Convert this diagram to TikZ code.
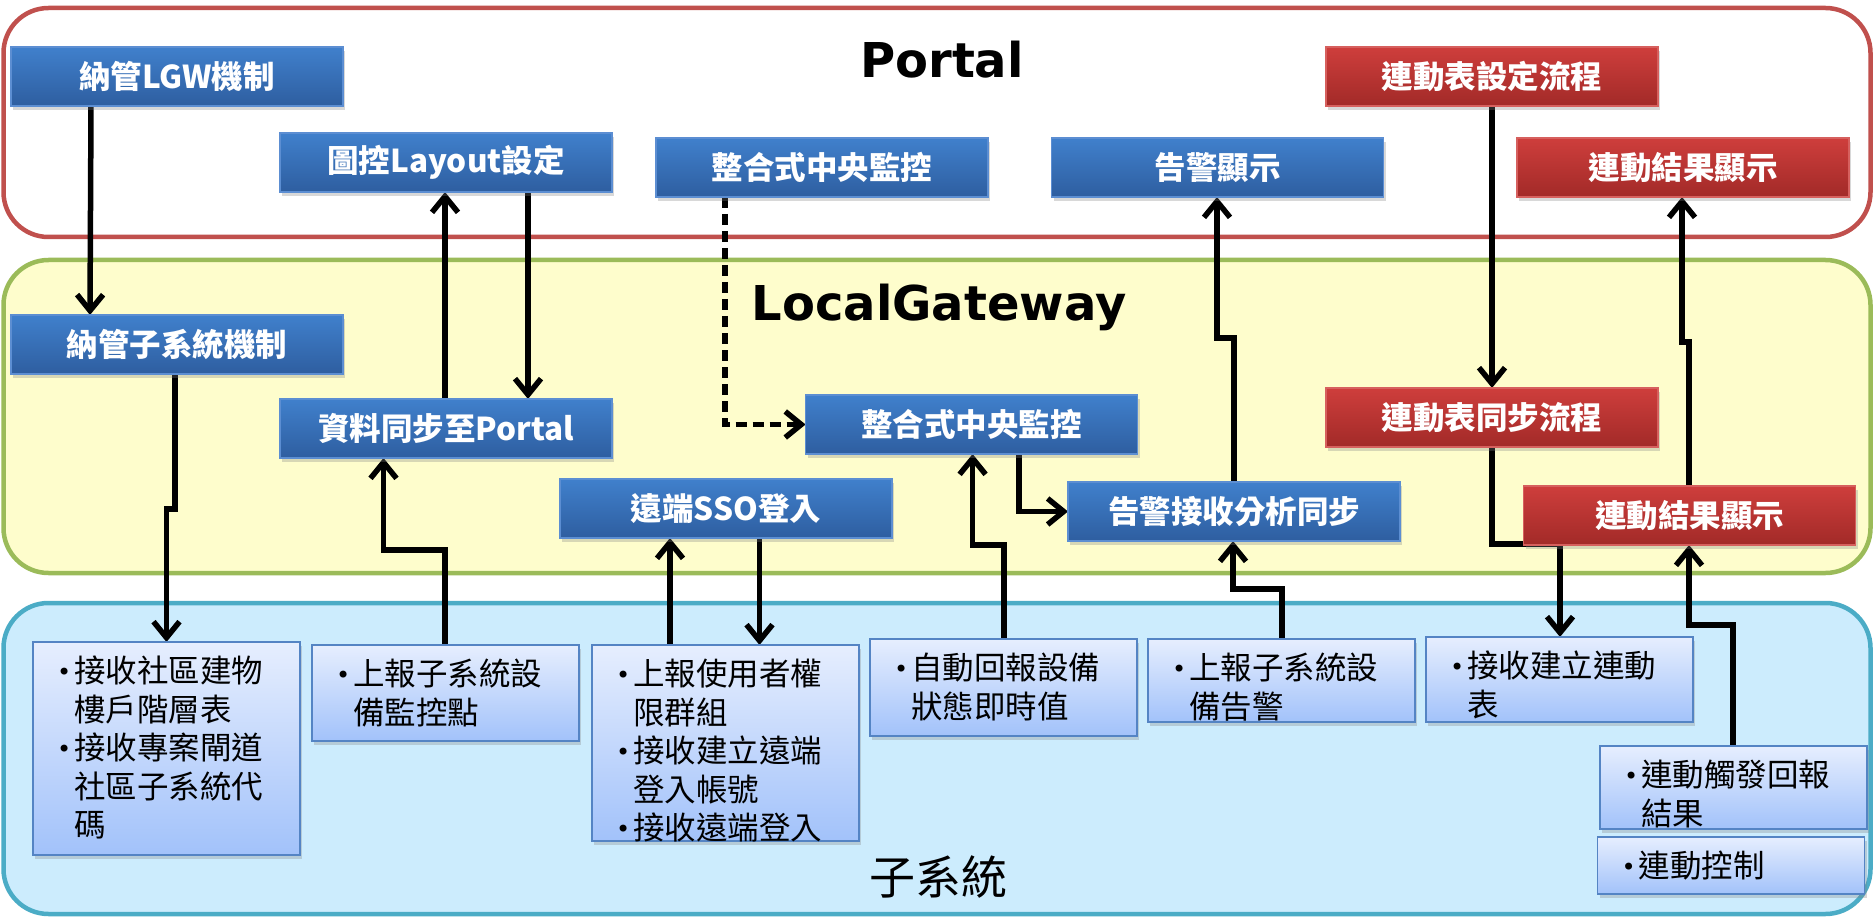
\documentclass[tikz,border=0pt]{standalone}
\usepackage{fontspec}
\setmainfont{Noto Sans CJK TC}
\newfontfamily\titlefont{DejaVu Sans}
\usetikzlibrary{arrows.meta,shadows}

\definecolor{bluetop}{RGB}{64,128,204}
\definecolor{bluebot}{RGB}{46,94,160}
\definecolor{blueline}{RGB}{92,142,210}
\definecolor{redtop}{RGB}{206,62,60}
\definecolor{redbot}{RGB}{162,42,40}
\definecolor{redline}{RGB}{214,96,94}
\definecolor{listtop}{RGB}{230,238,254}
\definecolor{listbot}{RGB}{162,194,250}
\definecolor{listline}{RGB}{84,132,196}
\definecolor{portalline}{RGB}{192,80,77}
\definecolor{lgwfill}{RGB}{254,253,204}
\definecolor{lgwline}{RGB}{155,187,89}
\definecolor{subfill}{RGB}{204,236,253}
\definecolor{subline}{RGB}{75,172,198}

\newcommand{\boxfont}{\fontsize{31.5}{38.5}\selectfont}
\newcommand{\bul}{\makebox[17pt][l]{\titlefont\fontsize{24}{24}\selectfont\raisebox{2pt}{•}}}
\newcommand{\ind}{\hspace*{17pt}}

\pgfdeclarelayer{bg}
\pgfdeclarelayer{mid}
\pgfsetlayers{bg,mid,main}

\tikzset{
  procbox/.style={rectangle, draw=blueline, line width=1.5pt, top color=bluetop, bottom color=bluebot, text=white, font=\boxfont\bfseries, minimum width=332pt, minimum height=59pt, inner sep=0pt, outer sep=0pt, anchor=north west, drop shadow={shadow xshift=2pt, shadow yshift=-4pt, opacity=0.3}},
  redbox/.style={procbox, draw=redline, top color=redtop, bottom color=redbot},
  listbox/.style={rectangle, draw=listline, line width=1.5pt, top color=listtop, bottom color=listbot, minimum width=267pt, inner sep=0pt, outer sep=0pt, anchor=north west, drop shadow={shadow xshift=2pt, shadow yshift=-4pt, opacity=0.3}},
  listtext/.style={anchor=north west, align=left, inner sep=0pt, font=\boxfont},
  area/.style={rectangle, rounded corners=45pt, line width=4.5pt, minimum width=1867pt, outer sep=0pt, anchor=north west},
  title/.style={font=\titlefont\fontsize{48}{48}\selectfont\bfseries, anchor=base},
  flow/.style={line width=5.5pt, -{Straight Barb[length=16pt,width=26pt]}},
  dflow/.style={flow, dash pattern=on 11pt off 6pt},
}

\begin{document}
\begin{tikzpicture}[x=1pt,y=-1pt]
\useasboundingbox (0,0) rectangle (1874,917);

\begin{pgfonlayer}{bg}
\fill [white] (0,0) rectangle (1874,917);
\node (portal) [area, draw=portalline, fill=white, minimum height=229pt] at (3.5,8) {};
\node (lgwarea) [area, draw=lgwline, fill=lgwfill, minimum height=313pt] at (3.5,260) {};
\node (subarea) [area, draw=subline, fill=subfill, minimum height=311pt] at (3.5,603) {};
\end{pgfonlayer}

\node (portaltitle) [title] at (942,77.3) {Portal};
\node (lgwtitle) [title] at (939,320) {LocalGateway};
\node (subtitle) [font=\fontsize{46}{46}\selectfont] at (938,877) {子系統};

% Portal
\node (lgw) [procbox] at (11,47) {納管LGW機制};
\node (layout) [procbox] at (280,133) {圖控Layout設定};
\node (mon) [procbox] at (656,138) {整合式中央監控};
\node (alarm) [procbox] at (1051.5,138) {告警顯示};
\node (lset) [redbox] at (1326,47) {連動表設定流程};
\node (lresp) [redbox] at (1517,138) {連動結果顯示};

% LocalGateway
\node (subm) [procbox] at (11,315) {納管子系統機制};
\node (sync) [procbox] at (280,399) {資料同步至Portal};
\node (monl) [procbox] at (805.6,395) {整合式中央監控};
\node (sso) [procbox] at (560,479) {遠端SSO登入};
\node (recv) [procbox] at (1068,482) {告警接收分析同步};
\node (lsync) [redbox] at (1326,388) {連動表同步流程};
\node (lres) [redbox] at (1523.5,486) {連動結果顯示};

% subsystems
\node (list1) [listbox, minimum height=213pt] at (33,642) {};
\node (list1t) [listtext] at ([xshift=24pt,yshift=-14pt]list1.north west) {\bul 接收社區建物\\ \ind 樓戶階層表\\ \bul 接收專案閘道\\ \ind 社區子系統代\\ \ind 碼};
\node (list2) [listbox, minimum height=96pt] at (312,645) {};
\node (list2t) [listtext] at ([xshift=24pt,yshift=-14pt]list2.north west) {\bul 上報子系統設\\ \ind 備監控點};
\node (list3) [listbox, minimum height=196pt] at (592,645) {};
\node (list3t) [listtext] at ([xshift=24pt,yshift=-14pt]list3.north west) {\bul 上報使用者權\\ \ind 限群組\\ \bul 接收建立遠端\\ \ind 登入帳號\\ \bul 接收遠端登入};
\node (list4) [listbox, minimum height=97pt] at (870,639) {};
\node (list4t) [listtext] at ([xshift=24pt,yshift=-14pt]list4.north west) {\bul 自動回報設備\\ \ind 狀態即時值};
\node (list5) [listbox, minimum height=83pt] at (1148,639) {};
\node (list5t) [listtext] at ([xshift=24pt,yshift=-14pt]list5.north west) {\bul 上報子系統設\\ \ind 備告警};
\node (list6) [listbox, minimum height=85pt] at (1426,637) {};
\node (list6t) [listtext] at ([xshift=24pt,yshift=-14pt]list6.north west) {\bul 接收建立連動\\ \ind 表};
\node (list7) [listbox, minimum height=83pt] at (1600,746) {};
\node (list7t) [listtext] at ([xshift=24pt,yshift=-14pt]list7.north west) {\bul 連動觸發回報\\ \ind 結果};
\node (list8) [listbox, minimum height=57pt] at (1597.5,837) {};
\node (list8t) [listtext] at ([xshift=24pt,yshift=-14pt]list8.north west) {\bul 連動控制};

\begin{pgfonlayer}{mid}
\draw [flow] ([xshift=80pt]lgw.south west) -- ([xshift=79pt]subm.north west);
\draw [flow] ([xshift=164pt]subm.south west) -- ++(0,135) -| ([xshift=133.5pt]list1.north west);
\draw [flow] ([xshift=133pt]list2.north west) -- ++(0,-95) -| ([xshift=103.5pt]sync.south west);
\draw [flow] ([xshift=165pt]sync.north west) -- ([xshift=165pt]layout.south west);
\draw [flow] ([xshift=248pt]layout.south west) -- ([xshift=248pt]sync.north west);
\draw [flow] ([xshift=78pt]list3.north west) -- ([xshift=110pt]sso.south west);
\draw [flow] ([xshift=199.5pt]sso.south west) -- ([xshift=167.5pt]list3.north west);
\draw [dflow] ([xshift=69pt]mon.south west) |- (monl.west);
\draw [flow] ([xshift=134pt]list4.north west) -- ++(0,-94) -| ([xshift=167pt]monl.south west);
\draw [flow] ([xshift=213.4pt]monl.south west) |- (recv.west);
\draw [flow] ([xshift=134pt]list5.north west) -- ++(0,-50) -| ([xshift=165pt]recv.south west);
\draw [flow] ([xshift=166pt]recv.north west) -- ++(0,-144) -| ([xshift=165.5pt]alarm.south west);
\draw [flow] (lset.south) -- (lsync.north);
\draw [flow] (lsync.south) -- ++(0,97) -| ([xshift=134pt]list6.north west);
\draw [flow] ([xshift=133pt]list7.north west) -- ++(0,-121) -| ([xshift=165.5pt]lres.south west);
\draw [flow] ([xshift=165.5pt]lres.north west) -- ++(0,-144) -| ([xshift=165pt]lresp.south west);
\end{pgfonlayer}
\end{tikzpicture}
\end{document}
